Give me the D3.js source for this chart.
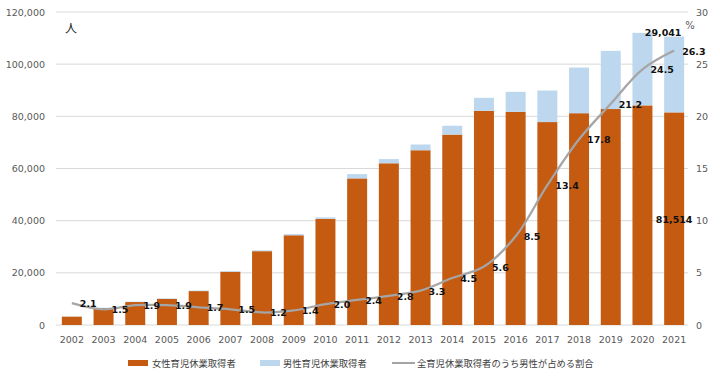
<!DOCTYPE html>
<html><head><meta charset="utf-8">
<script src="https://cdn.jsdelivr.net/npm/d3@7"></script>
<style>
html,body{margin:0;padding:0;background:#fff;}
svg{display:block;}
</style>
</head><body>
<svg id="chart" width="720" height="381"></svg>
<script>
const years = ["2002","2003","2004","2005","2006","2007","2008","2009","2010","2011","2012","2013","2014","2015","2016","2017","2018","2019","2020","2021"];
const women = [3200,6500,8800,10000,13000,20400,28300,34400,40700,56200,62000,67000,73000,82100,81700,77800,81200,82800,84200,81514];
const men   = [70,100,150,190,230,310,340,450,560,1650,1600,2200,3400,5000,7700,12100,17500,22300,27800,29041];
const ratio = [2.1,1.5,1.9,1.9,1.7,1.5,1.2,1.4,2.0,2.4,2.8,3.3,4.5,5.6,8.5,13.4,17.8,21.2,24.5,26.3];
const leftTicks = [0,20000,40000,60000,80000,100000,120000];
const rightTicks = [0,5,10,15,20,25,30];
const legendLabels = ["女性育児休業取得者","男性育児休業取得者","全育児休業取得者のうち男性が占める割合"];

const colWomen = "#C55A11", colMen = "#BDD7EE", colLine = "#A5A5A5";
const numFont = "'DejaVu Sans', Verdana, sans-serif";
const jpFont = "'Noto Sans CJK JP', sans-serif";

const svg = d3.select("#chart");
const L = 56, R = 690, T = 12, B = 325;

const x = d3.scaleBand().domain(years).range([L, R]).paddingInner(0.37).paddingOuter(0.185);
const y = d3.scaleLinear().domain([0,120000]).range([B, T]);
const y2 = d3.scaleLinear().domain([0,30]).range([B, T]);

// gridlines
svg.append("g").selectAll("line").data(leftTicks).join("line")
  .attr("x1", L).attr("x2", 688)
  .attr("y1", d => y(d)).attr("y2", d => y(d))
  .attr("stroke", "#D9D9D9").attr("stroke-width", 1);

// left axis
const ax = svg.append("g").attr("transform", `translate(45,0)`)
  .call(d3.axisLeft(y).tickValues(leftTicks).tickSize(0).tickPadding(0).tickFormat(d3.format(",")));
ax.select(".domain").remove();
ax.selectAll("text").attr("font-family", numFont).attr("font-size", 9.5).attr("fill", "#595959");

// right axis
const ax2 = svg.append("g").attr("transform", `translate(696,0)`)
  .call(d3.axisRight(y2).tickValues(rightTicks).tickSize(0).tickPadding(0));
ax2.select(".domain").remove();
ax2.selectAll("text").attr("font-family", numFont).attr("font-size", 9.5).attr("fill", "#595959");

// bottom axis
const axb = svg.append("g").attr("transform", `translate(0,${B})`)
  .call(d3.axisBottom(x).tickSize(0).tickPadding(11));
axb.select(".domain").remove();
axb.selectAll("text").attr("font-family", numFont).attr("font-size", 9.5).attr("fill", "#595959");

// bars
svg.append("g").selectAll("rect").data(years).join("rect")
  .attr("x", d => x(d)).attr("width", x.bandwidth())
  .attr("y", (d,i) => y(women[i])).attr("height", (d,i) => B - y(women[i]))
  .attr("fill", colWomen);
svg.append("g").selectAll("rect").data(years).join("rect")
  .attr("x", d => x(d)).attr("width", x.bandwidth())
  .attr("y", (d,i) => y(women[i] + men[i])).attr("height", (d,i) => y(women[i]) - y(women[i] + men[i]))
  .attr("fill", colMen);

// line
const cx = d => x(d) + x.bandwidth()/2;
const line = d3.line().x((d,i) => cx(years[i])).y(d => y2(d)).curve(d3.curveCatmullRom.alpha(0.5));
svg.append("path").datum(ratio).attr("d", line)
  .attr("fill", "none").attr("stroke", colLine).attr("stroke-width", 2.25);

// line labels
svg.append("g").selectAll("text").data(ratio).join("text")
  .attr("x", (d,i) => cx(years[i]) + 8)
  .attr("y", d => y2(d) + 4)
  .attr("font-family", numFont).attr("font-size", 9.5).attr("font-weight", "bold").attr("fill", "#111")
  .text(d => d.toFixed(1));

// bar value labels (2021)
const last = years.length - 1;
svg.append("text")
  .attr("x", cx(years[last])).attr("y", (y(women[last]) + B)/2 + 4)
  .attr("text-anchor", "middle").attr("font-family", numFont).attr("font-size", 9.5)
  .attr("font-weight", "bold").attr("fill", "#111").text(d3.format(",")(women[last]));
svg.append("text")
  .attr("x", cx(years[last]) - 11).attr("y", y(women[last] + men[last]) - 1)
  .attr("text-anchor", "middle").attr("font-family", numFont).attr("font-size", 9.5)
  .attr("font-weight", "bold").attr("fill", "#111").text(d3.format(",")(men[last]));

// unit labels
svg.append("text").attr("x", 71).attr("y", 33).attr("text-anchor", "middle")
  .attr("font-family", jpFont).attr("font-size", 12).attr("fill", "#222").text("人");
svg.append("text").attr("x", 690).attr("y", 29).attr("text-anchor", "middle")
  .attr("font-family", numFont).attr("font-size", 10).attr("fill", "#595959").text("%");

// legend
const lg = svg.append("g");
const ly = 363;
lg.append("rect").attr("x", 128).attr("y", ly - 3).attr("width", 20).attr("height", 6).attr("fill", colWomen);
lg.append("text").attr("x", 152).attr("y", ly + 3.5).attr("font-family", jpFont).attr("font-size", 9.3).attr("fill", "#404040").text(legendLabels[0]);
lg.append("rect").attr("x", 260).attr("y", ly - 3).attr("width", 20).attr("height", 6).attr("fill", colMen);
lg.append("text").attr("x", 283).attr("y", ly + 3.5).attr("font-family", jpFont).attr("font-size", 9.3).attr("fill", "#404040").text(legendLabels[1]);
lg.append("line").attr("x1", 392).attr("x2", 415).attr("y1", ly).attr("y2", ly).attr("stroke", colLine).attr("stroke-width", 2);
lg.append("text").attr("x", 417).attr("y", ly + 3.5).attr("font-family", jpFont).attr("font-size", 9.3).attr("fill", "#404040").text(legendLabels[2]);
</script>
</body></html>
